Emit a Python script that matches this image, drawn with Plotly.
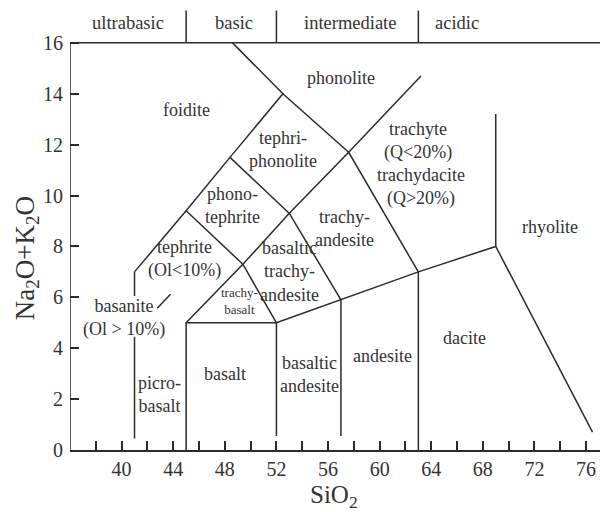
import plotly.graph_objects as go

# ---- axis ticks ----
x_tick_vals = [40, 44, 48, 52, 56, 60, 64, 68, 72, 76]
x_tick_text = ["40", "44", "48", "52", "56", "60", "64", "68", "72", "76"]
x_minor_step = 2
y_tick_vals = [0, 2, 4, 6, 8, 10, 12, 14, 16]
y_tick_text = ["0", "2", "4", "6", "8", "10", "12", "14", "16"]

# ---- field boundaries (SiO2, Na2O+K2O) ----
b_picro_x = [41, 41, None, 41, 41]
b_picro_y = [0.45, 4.45, None, 6.05, 7.0]
b_foid_x = [41, 45, 48.4, 52.5, 48.6]
b_foid_y = [7.0, 9.4, 11.5, 14.0, 16.0]
b_phon_x = [52.5, 57.6, 63.2]
b_phon_y = [14.0, 11.7, 14.7]
b_mid_x = [45, 49.4, 53, 57.6, 63]
b_mid_y = [9.4, 7.3, 9.3, 11.7, 7.0]
b_tp_x = [48.4, 53, 57]
b_tp_y = [11.5, 9.3, 5.9]
b_tb_x = [45, 49.4, 52]
b_tb_y = [5.0, 7.3, 5.0]
b_base_x = [45, 45, 52, 57, 63, 69, 76.5]
b_base_y = [0.0, 5.0, 5.0, 5.9, 7.0, 8.0, 0.7]
b_rhy_x = [69, 69]
b_rhy_y = [8.0, 13.2]
b_v52_x = [52, 52]
b_v52_y = [0.55, 5.0]
b_v57_x = [57, 57]
b_v57_y = [0.55, 5.9]
b_v63_x = [63, 63]
b_v63_y = [0.0, 7.0]
b_slash_x = [42.76, 43.79]
b_slash_y = [5.57, 6.12]
frame_x = [36, 36, 77.7]
frame_y = [0, 16, 16]
class_div_x = [45, 45, None, 52, 52, None, 63, 63]
class_div_y = [16, 17.27, None, 16, 17.27, None, 16, 17.27]

# ---- labels ----
class_names = ["ultrabasic", "basic", "intermediate", "acidic"]
class_x = [40.5, 48.7, 57.7, 66.0]
class_y = [16.77, 16.77, 16.77, 16.77]

field_names = ["phonolite", "foidite", "tephri-<br>phonolite", "trachyte<br>(Q&lt;20%)",
               "trachydacite<br>(Q&gt;20%)", "phono-<br>tephrite", "trachy-<br>andesite",
               "rhyolite", "tephrite<br>(Ol&lt;10%)", "basaltic<br>trachy-<br>andesite",
               "basanite<br>(Ol &gt; 10%)", "basalt", "basaltic<br>andesite",
               "andesite", "dacite", "picro-<br>basalt"]
field_x = [57.0, 45.0, 52.5, 63.0, 63.2, 48.6, 57.3, 73.2, 44.9, 53.0, 40.2, 48.0,
           54.6, 60.2, 66.6, 42.9]
field_y = [14.6, 13.35, 11.8, 12.15, 10.35, 9.6, 8.7, 8.78, 7.5, 7.0, 5.2, 3.0,
           2.95, 3.7, 4.4, 2.2]
small_names = ["trachy-<br>basalt"]
small_x = [49.1]
small_y = [5.85]

LC = "#2b2b2b"
TC = "#333333"
FONT = "Liberation Serif"

fig = go.Figure()
for xs, ys in [(b_picro_x, b_picro_y), (b_foid_x, b_foid_y), (b_phon_x, b_phon_y),
               (b_mid_x, b_mid_y), (b_tp_x, b_tp_y), (b_tb_x, b_tb_y),
               (b_base_x, b_base_y), (b_rhy_x, b_rhy_y), (b_v52_x, b_v52_y),
               (b_v57_x, b_v57_y), (b_v63_x, b_v63_y), (b_slash_x, b_slash_y),
               (frame_x, frame_y), (class_div_x, class_div_y)]:
    fig.add_trace(go.Scatter(x=xs, y=ys, mode="lines",
                             line=dict(color=LC, width=1.5),
                             hoverinfo="skip", showlegend=False))

def label(t, x, y, size, **kw):
    fig.add_annotation(x=x, y=y, text=t, showarrow=False, xanchor="center",
                       yanchor="middle", font=dict(family=FONT, size=size, color=TC), **kw)

for t, x, y in zip(class_names, class_x, class_y):
    label(t, x, y, 18.5)
for t, x, y in zip(field_names, field_x, field_y):
    label(t, x, y, 18)
for t, x, y in zip(small_names, small_x, small_y):
    label(t, x, y, 13)

label("Na<sub>2</sub>O+K<sub>2</sub>O", -0.080, 0.434, 27,
      xref="paper", yref="paper", textangle=-90)
label("SiO<sub>2</sub>", 0.49, -0.106, 25, xref="paper", yref="paper")

# page has an 8px body margin: figure is 600x504 placed at (8, 8)
fig.update_layout(
    width=600, height=504,
    margin=dict(l=62, r=0, t=0, b=62),
    paper_bgcolor="white", plot_bgcolor="white",
    showlegend=False,
    xaxis=dict(range=[36, 77.7], tickvals=x_tick_vals, ticktext=x_tick_text,
               ticks="inside", ticklen=9, tickwidth=1.5, tickcolor=LC,
               minor=dict(dtick=x_minor_step, tick0=36, ticks="inside", ticklen=9,
                          tickwidth=1.5, tickcolor=LC, showgrid=False),
               showline=True, linecolor=LC, linewidth=1.5,
               showgrid=False, zeroline=False,
               tickfont=dict(family=FONT, size=20, color=TC)),
    yaxis=dict(range=[0, 17.37], tickvals=y_tick_vals, ticktext=y_tick_text,
               ticks="inside", ticklen=9, tickwidth=1.5, tickcolor=LC,
               showline=False, showgrid=False, zeroline=False,
               ticklabelstandoff=6,
               tickfont=dict(family=FONT, size=20, color=TC)),
)

fig.write_html("out.html")
